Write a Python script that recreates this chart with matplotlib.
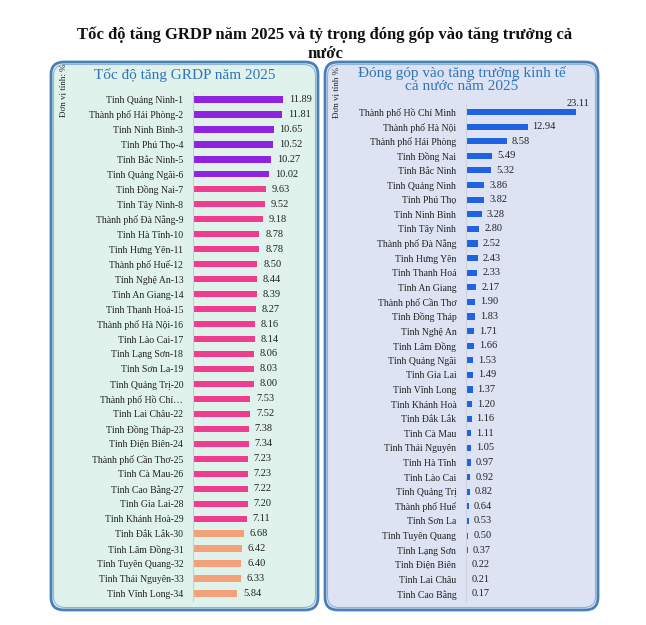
import matplotlib
matplotlib.use("Agg")
import matplotlib.pyplot as plt
from matplotlib.patches import FancyBboxPatch

plt.rcParams['font.family'] = ['Liberation Serif', 'DejaVu Serif']

# ---------------- data ----------------
title = "Tốc độ tăng GRDP năm 2025 và tỷ trọng đóng góp vào tăng trưởng cả\nnước"
left_title = "Tốc độ tăng GRDP năm 2025"
right_title = "Đóng góp vào tăng trưởng kinh tế\ncả nước năm 2025"
unit_left = "Đơn vị tính: %"
unit_right = "Đơn vị tính %"

growth_provinces = [
    "Tỉnh Quảng Ninh-1", "Thành phố Hải Phòng-2", "Tỉnh Ninh Bình-3", "Tỉnh Phú Thọ-4",
    "Tỉnh Bắc Ninh-5", "Tỉnh Quảng Ngãi-6", "Tỉnh Đồng Nai-7", "Tỉnh Tây Ninh-8",
    "Thành phố Đà Nẵng-9", "Tỉnh Hà Tĩnh-10", "Tỉnh Hưng Yên-11", "Thành phố Huế-12",
    "Tỉnh Nghệ An-13", "Tỉnh An Giang-14", "Tỉnh Thanh Hoá-15", "Thành phố Hà Nội-16",
    "Tỉnh Lào Cai-17", "Tỉnh Lạng Sơn-18", "Tỉnh Sơn La-19", "Tỉnh Quảng Trị-20",
    "Thành phố Hồ Chí…", "Tỉnh Lai Châu-22", "Tỉnh Đồng Tháp-23", "Tỉnh Điện Biên-24",
    "Thành phố Cần Thơ-25", "Tỉnh Cà Mau-26", "Tỉnh Cao Bằng-27", "Tỉnh Gia Lai-28",
    "Tỉnh Khánh Hoà-29", "Tỉnh Đắk Lắk-30", "Tỉnh Lâm Đồng-31", "Tỉnh Tuyên Quang-32",
    "Tỉnh Thái Nguyên-33", "Tỉnh Vĩnh Long-34",
]
growth_values = [
    11.89, 11.81, 10.65, 10.52, 10.27, 10.02, 9.63, 9.52, 9.18, 8.78, 8.78, 8.50,
    8.44, 8.39, 8.27, 8.16, 8.14, 8.06, 8.03, 8.00, 7.53, 7.52, 7.38, 7.34,
    7.23, 7.23, 7.22, 7.20, 7.11, 6.68, 6.42, 6.40, 6.33, 5.84,
]
growth_groups = [0] * 6 + [1] * 23 + [2] * 5

contrib_provinces = [
    "Thành phố Hồ Chí Minh", "Thành phố Hà Nội", "Thành phố Hải Phòng", "Tỉnh Đồng Nai",
    "Tỉnh Bắc Ninh", "Tỉnh Quảng Ninh", "Tỉnh Phú Thọ", "Tỉnh Ninh Bình", "Tỉnh Tây Ninh",
    "Thành phố Đà Nẵng", "Tỉnh Hưng Yên", "Tỉnh Thanh Hoá", "Tỉnh An Giang",
    "Thành phố Cần Thơ", "Tỉnh Đồng Tháp", "Tỉnh Nghệ An", "Tỉnh Lâm Đồng",
    "Tỉnh Quảng Ngãi", "Tỉnh Gia Lai", "Tỉnh Vĩnh Long", "Tỉnh Khánh Hoà", "Tỉnh Đắk Lắk",
    "Tỉnh Cà Mau", "Tỉnh Thái Nguyên", "Tỉnh Hà Tĩnh", "Tỉnh Lào Cai", "Tỉnh Quảng Trị",
    "Thành phố Huế", "Tỉnh Sơn La", "Tỉnh Tuyên Quang", "Tỉnh Lạng Sơn", "Tỉnh Điện Biên",
    "Tỉnh Lai Châu", "Tỉnh Cao Bằng",
]
contrib_values = [
    23.11, 12.94, 8.58, 5.49, 5.32, 3.86, 3.82, 3.28, 2.80, 2.52, 2.43, 2.33, 2.17,
    1.90, 1.83, 1.71, 1.66, 1.53, 1.49, 1.37, 1.20, 1.16, 1.11, 1.05, 0.97, 0.92,
    0.82, 0.64, 0.53, 0.50, 0.37, 0.22, 0.21, 0.17,
]

group_colors = ["#8e24e0", "#ee3d8f", "#f3a178"]
contrib_color = "#1f63e0"

# ---------------- figure ----------------
W, H = 646, 625
fig = plt.figure(figsize=(W / 100, H / 100), dpi=100)
fig.patch.set_facecolor("white")


def fx(px):
    return px / W


def fy(py):
    return 1 - py / H


def panel(x0, y0, x1, y1, face):
    outer = FancyBboxPatch((fx(x0), fy(y1)), fx(x1 - x0), (y1 - y0) / H,
                           boxstyle="round,pad=0,rounding_size=0.02",
                           transform=fig.transFigure, facecolor=face,
                           edgecolor="#4a80b8", lw=2.0, zorder=-5)
    inner = FancyBboxPatch((fx(x0 + 2.5), fy(y1 - 2.5)), fx(x1 - x0 - 5), (y1 - y0 - 5) / H,
                           boxstyle="round,pad=0,rounding_size=0.018",
                           transform=fig.transFigure, facecolor="none",
                           edgecolor="#8fb4dc", lw=0.8, zorder=-4)
    fig.patches.extend([outer, inner])


panel(51, 62, 318, 610, "#dff2eb")
panel(325, 62, 598, 610, "#dde3f2")

fig.text(fx(325), fy(44), title, ha="center", va="center", fontsize=12,
         fontweight="bold", color="#111111", linespacing=1.25)

fig.text(fx(185), fy(74.5), left_title, ha="center", va="center", fontsize=11,
         color="#2f74b8")
fig.text(fx(462), fy(79.5), right_title, ha="center", va="center", fontsize=11,
         color="#2f74b8", linespacing=1.0)

fig.text(fx(63), fy(90), unit_left, rotation=90, ha="center", va="center",
         fontsize=6.5, color="#222222")
fig.text(fx(336), fy(92), unit_right, rotation=90, ha="center", va="center",
         fontsize=6.5, color="#222222")

# ---------------- left axes ----------------
axL = fig.add_axes([fx(193), fy(601), fx(313 - 193), (601 - 92) / H])
axL.set_facecolor("none")
n = len(growth_values)
ypos = list(range(n))
axL.barh(ypos, growth_values, height=0.42,
         color=[group_colors[g] for g in growth_groups])
axL.set_xlim(0, 15.85)
axL.set_ylim(n - 0.5, -0.5)
axL.set_yticks(ypos)
axL.set_yticklabels(growth_provinces, fontsize=7, color="#222222")
axL.tick_params(axis="y", length=0, pad=7)
axL.set_xticks([])
for s in ["top", "right", "bottom"]:
    axL.spines[s].set_visible(False)
axL.spines["left"].set_color("#c9cfcc")
axL.spines["left"].set_linewidth(0.8)
for i, v in enumerate(growth_values):
    axL.annotate(f"{v:.2f}", (v, i), xytext=(6, 0), textcoords="offset pixels",
                 ha="left", va="center", fontsize=7.5, color="#222222")

# ---------------- right axes ----------------
axR = fig.add_axes([fx(466), fy(601.3), fx(590 - 466), (601.3 - 104.7) / H])
axR.set_facecolor("none")
m = len(contrib_values)
ypos2 = list(range(m))
axR.barh(ypos2, contrib_values, height=0.42, color=contrib_color)
axR.set_xlim(0, 26.05)
axR.set_ylim(m - 0.5, -0.5)
axR.set_yticks(ypos2)
axR.set_yticklabels(contrib_provinces, fontsize=7, color="#222222")
axR.tick_params(axis="y", length=0, pad=7)
axR.set_xticks([])
for s in ["top", "right", "bottom"]:
    axR.spines[s].set_visible(False)
axR.spines["left"].set_color("#cdd2de")
axR.spines["left"].set_linewidth(0.8)
vmax = max(contrib_values)
for i, v in enumerate(contrib_values):
    if v == vmax:
        axR.annotate(f"{v:.2f}", (v, i), xytext=(13, 9), textcoords="offset pixels",
                     ha="right", va="center", fontsize=7.5, color="#222222")
    else:
        axR.annotate(f"{v:.2f}", (v, i), xytext=(5, 0), textcoords="offset pixels",
                     ha="left", va="center", fontsize=7.5, color="#222222")

fig.savefig("out.png", dpi=100)
